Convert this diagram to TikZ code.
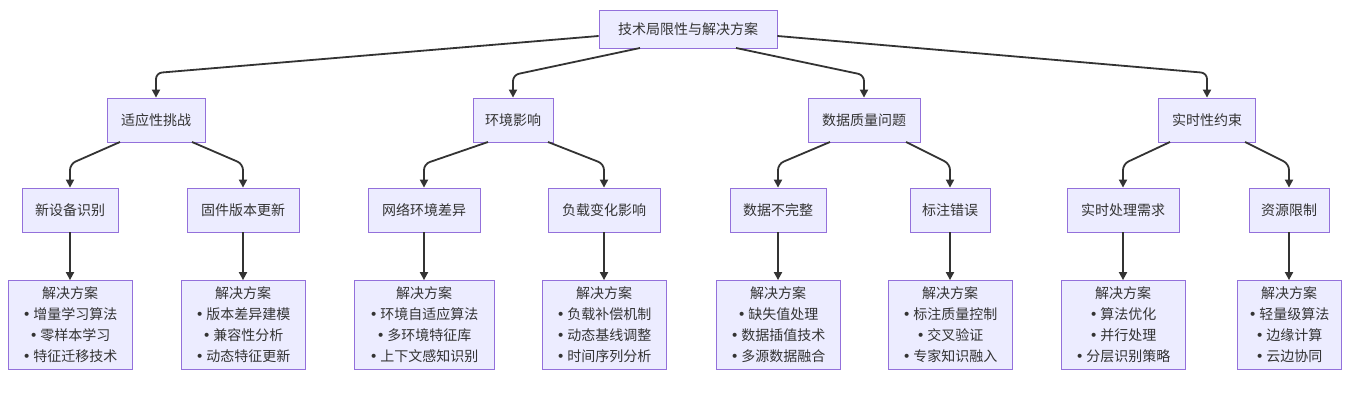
\documentclass[tikz,border=0pt]{standalone}
\usepackage{fontspec}
\setmainfont{Noto Sans CJK SC}
\newfontfamily\bulf{DejaVu Sans}
\newcommand{\bl}{{\bulf •}\,}
\usetikzlibrary{arrows.meta}
\definecolor{nf}{HTML}{ECECFF}
\definecolor{nb}{HTML}{9370DB}
\definecolor{ln}{HTML}{333333}
\begin{document}
\begin{tikzpicture}[x=1pt,y=-1pt,
  box/.style={draw=nb,fill=nf,line width=0.8pt,font=\fontsize{14}{21}\selectfont,inner sep=0pt,align=center,text=ln},
  e/.style={draw=ln,line width=1.8pt,rounded corners=6pt,-{Triangle[length=8pt,width=8pt]}}]
\useasboundingbox (0,0) rectangle (1351,406);
\node[box,minimum width=178,minimum height=38] (r) at (688,29) {技术局限性与解决方案};
\foreach \n/\x/\w/\t in {a/156/98/适应性挑战,b/513/80/环境影响,c/864/112/数据质量问题,d/1207/97/实时性约束}
  \node[box,minimum width=\w,minimum height=44] (\n) at (\x,120) {\t};
\foreach \n/\x/\w/\t in {a1/70/96/新设备识别,a2/243/112/固件版本更新,b1/424/112/网络环境差异,b2/604/112/负载变化影响,c1/778/96/数据不完整,c2/950/80/标注错误,d1/1123/112/实时处理需求,d2/1289/80/资源限制}
  \node[box,minimum width=\w,minimum height=44] (\n) at (\x,210) {\t};
\node[box,minimum width=124,minimum height=89] (a1s) at (70,325) {解决方案\\\bl 增量学习算法\\\bl 零样本学习\\\bl 特征迁移技术};
\node[box,minimum width=124,minimum height=89] (a2s) at (243,325) {解决方案\\\bl 版本差异建模\\\bl 兼容性分析\\\bl 动态特征更新};
\node[box,minimum width=140,minimum height=89] (b1s) at (424,325) {解决方案\\\bl 环境自适应算法\\\bl 多环境特征库\\\bl 上下文感知识别};
\node[box,minimum width=124,minimum height=89] (b2s) at (604,325) {解决方案\\\bl 负载补偿机制\\\bl 动态基线调整\\\bl 时间序列分析};
\node[box,minimum width=124,minimum height=89] (c1s) at (778,325) {解决方案\\\bl 缺失值处理\\\bl 数据插值技术\\\bl 多源数据融合};
\node[box,minimum width=124,minimum height=89] (c2s) at (950,325) {解决方案\\\bl 标注质量控制\\\bl 交叉验证\\\bl 专家知识融入};
\node[box,minimum width=124,minimum height=89] (d1s) at (1123,325) {解决方案\\\bl 算法优化\\\bl 并行处理\\\bl 分层识别策略};
\node[box,minimum width=104,minimum height=89] (d2s) at (1289,325) {解决方案\\\bl 轻量级算法\\\bl 边缘计算\\\bl 云边协同};
\draw[e] (r.west|-0,36) -- (156,73) -- (a.north);
\draw[e] (640,48) -- (513,75) -- (b.north);
\draw[e] (736,48) -- (864,75) -- (c.north);
\draw[e] (r.east|-0,36) -- (1207,73) -- (d.north);
\foreach \p/\c/\xs in {a/a1/120,a/a2/192,b/b1/488,b/b2/548,c/c1/830,c/c2/906,d/d1/1170,d/d2/1245}
  \draw[e] (\xs,142) -- (\c.north|-0,164) -- (\c.north);
\foreach \c in {a1,a2,b1,b2,c1,c2,d1,d2}
  \draw[e] (\c.south) -- (\c s.north);
\end{tikzpicture}
\end{document}
